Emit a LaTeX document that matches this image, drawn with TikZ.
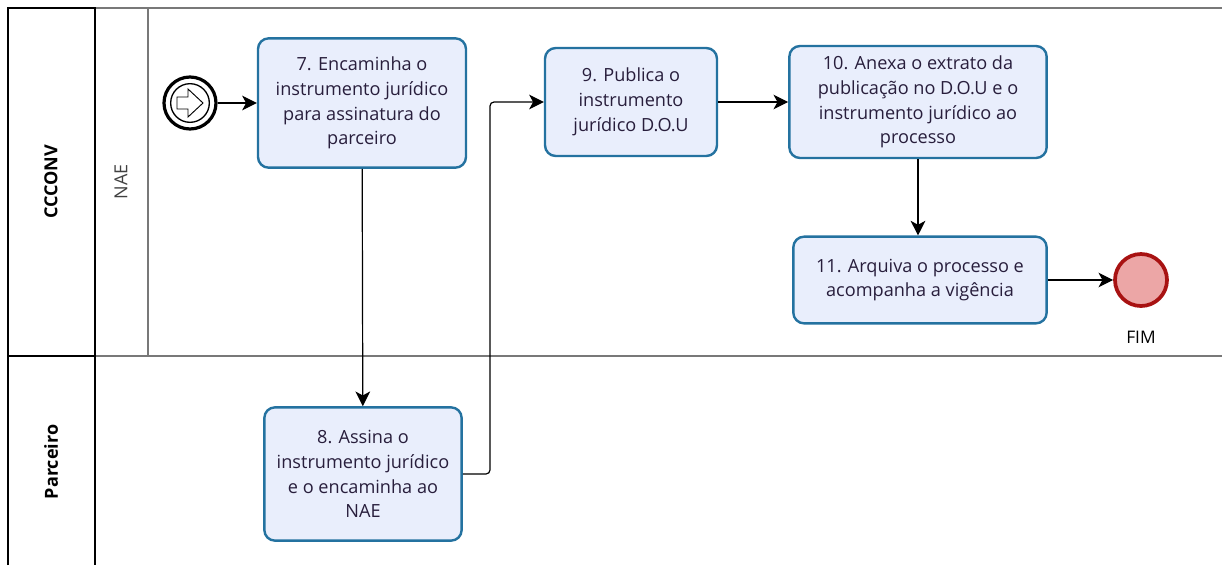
\documentclass[tikz,border=0pt]{standalone}
\usepackage{fontspec}
\setmainfont{Open Sans}
\usetikzlibrary{arrows.meta}
\definecolor{taskfill}{RGB}{233,238,252}
\definecolor{taskline}{RGB}{36,114,160}
\definecolor{endfill}{RGB}{236,166,166}
\definecolor{endline}{RGB}{168,18,18}
\definecolor{laneline}{RGB}{120,120,120}
\definecolor{tasktext}{RGB}{40,30,60}
\tikzstyle{task}=[draw=taskline, fill=taskfill, line width=1.8pt, rounded corners=8pt, align=center, text=tasktext, font=\fontsize{13.6}{18.6}\selectfont]
\tikzstyle{flow}=[-{Stealth[length=11pt,width=11pt,inset=3pt]}, line width=0.9pt]
\tikzstyle{lanelabel}=[rotate=90, font=\fontsize{13.5}{14}\selectfont]

\begin{document}
\begin{tikzpicture}[x=0.75pt,y=-0.75pt]
  \useasboundingbox (0,0) rectangle (1222,565);
  %% Pool and lanes
  \draw[laneline, line width=1pt] (95,8) -- (1222,8);
  \draw[laneline, line width=0.8pt] (95,356) -- (1222,356);
  \draw[laneline, line width=0.8pt] (148,8) -- (148,356);
  \draw[black, line width=1pt] (8,565) -- (8,8) -- (95,8) -- (95,565);
  \draw[black, line width=1pt] (8,356) -- (95,356);
  \draw (51,182) node[lanelabel, font=\fontsize{13.5}{14}\selectfont\bfseries] (ccconv) {CCCONV};
  \draw (121,182) node[lanelabel, text=black!75] (nae) {NAE};
  \draw (51,462) node[lanelabel, font=\fontsize{13.5}{14}\selectfont\bfseries] (parceiro) {Parceiro};

  %% Events
  \draw (190,103) node[circle, draw, line width=2.4pt, minimum size=39pt, inner sep=0pt] (start) {};
  \draw (190,103) node[circle, draw, line width=1pt, minimum size=29pt, inner sep=0pt] (startin) {};
  \draw[line width=0.7pt, fill=white] (177,97) -- (188,97) -- (188,89) -- (203,103) -- (188,117) -- (188,109) -- (177,109) -- cycle;
  \draw (1141,280) node[circle, draw=endline, fill=endfill, line width=2.8pt, minimum size=39pt, inner sep=0pt] (fim) {};
  \draw (1141,337) node[font=\fontsize{13}{14}\selectfont] (fimlabel) {FIM};

  %% Tasks
  \draw (362,103) node[task, minimum width=156pt, minimum height=97pt] (T7) {7. Encaminha o\\instrumento jurídico\\para assinatura do\\parceiro};
  \draw (363,474) node[task, minimum width=148pt, minimum height=100pt] (T8) {8. Assina o\\instrumento jurídico\\e o encaminha ao\\NAE};
  \draw (631,102) node[task, minimum width=129pt, minimum height=81pt] (T9) {9. Publica o\\instrumento\\jurídico D.O.U};
  \draw (918,102) node[task, minimum width=193pt, minimum height=84pt] (T10) {10. Anexa o extrato da\\publicação no D.O.U e o\\instrumento jurídico ao\\processo};
  \draw (920,280) node[task, minimum width=190pt, minimum height=65pt] (T11) {11. Arquiva o processo e\\acompanha a vigência};

  %% Flows
  \draw[flow] (start) -- (T7);
  \draw[flow] (T7) -- (T8);
  \draw[flow, rounded corners=3pt] (T8.east) -- (490,474) -- (490,102) -- (T9.west);
  \draw[flow] (T9) -- (T10);
  \draw[flow] (T10) -- (T10 |- T11.north);
  \draw[flow] (T11) -- (fim);
\end{tikzpicture}
\end{document}
